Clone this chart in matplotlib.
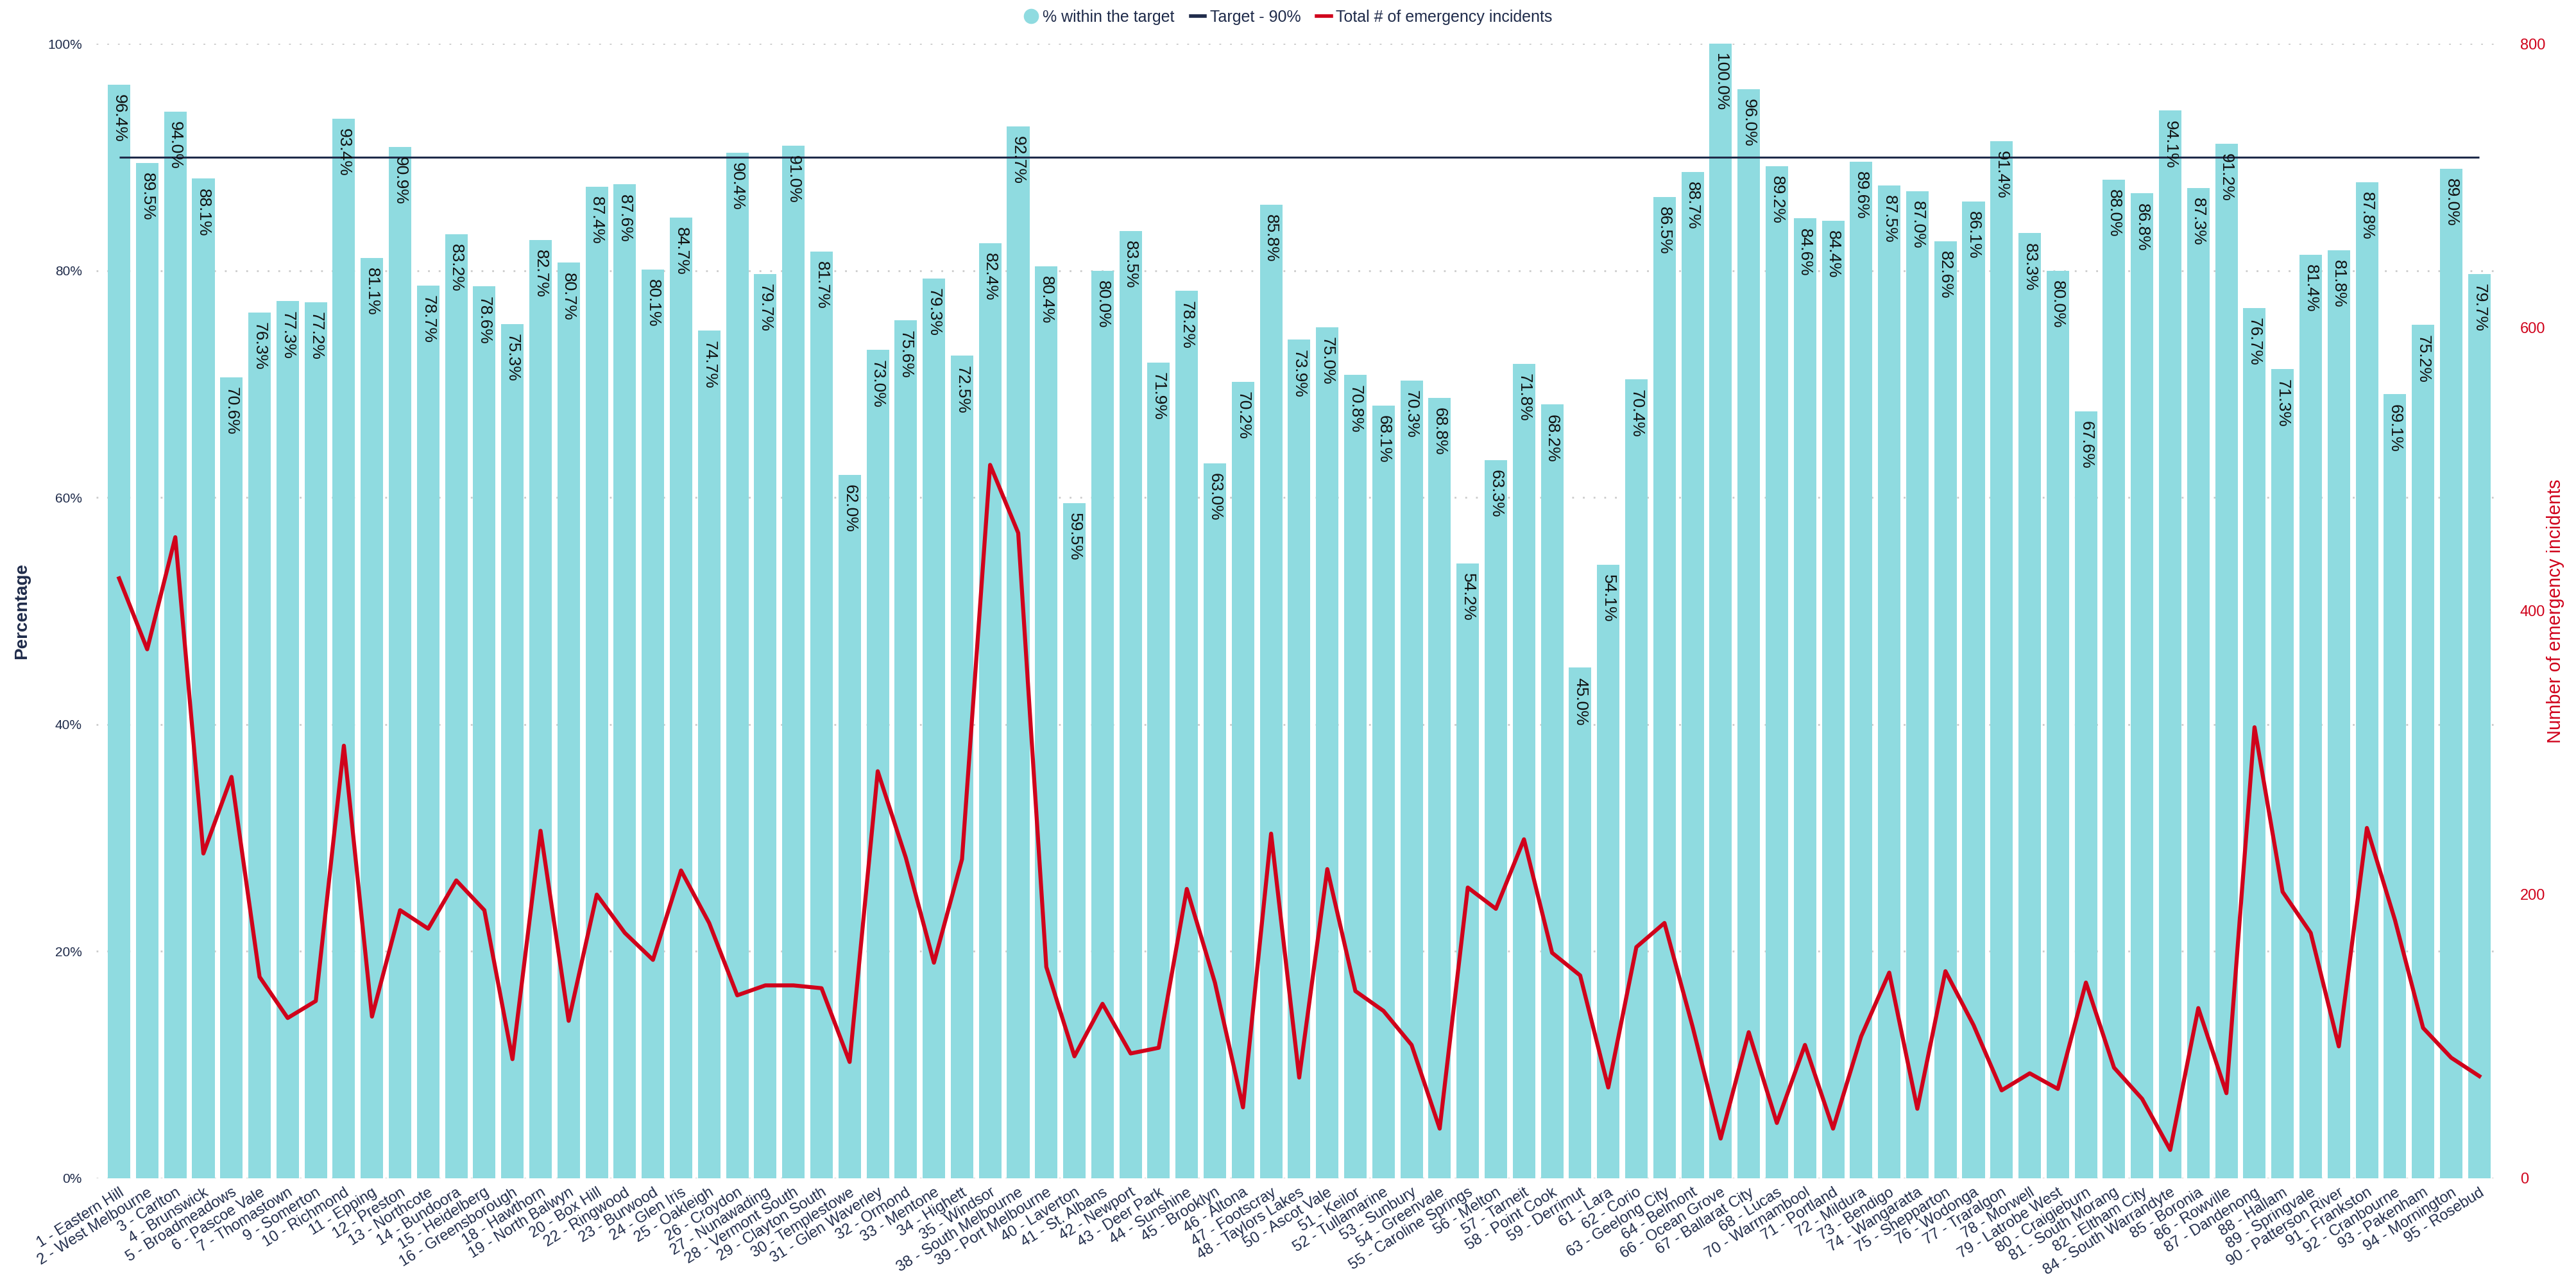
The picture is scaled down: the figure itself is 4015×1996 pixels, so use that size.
import matplotlib
matplotlib.use('Agg')
import matplotlib.pyplot as plt
from matplotlib.lines import Line2D
import numpy as np

plt.rcParams['font.family'] = ['Liberation Sans', 'DejaVu Sans']

stations = [
    "1 - Eastern Hill", "2 - West Melbourne", "3 - Carlton", "4 - Brunswick", "5 - Broadmeadows",
    "6 - Pascoe Vale", "7 - Thomastown", "9 - Somerton", "10 - Richmond", "11 - Epping",
    "12 - Preston", "13 - Northcote", "14 - Bundoora", "15 - Heidelberg", "16 - Greensborough",
    "18 - Hawthorn", "19 - North Balwyn", "20 - Box Hill", "22 - Ringwood", "23 - Burwood",
    "24 - Glen Iris", "25 - Oakleigh", "26 - Croydon", "27 - Nunawading", "28 - Vermont South",
    "29 - Clayton South", "30 - Templestowe", "31 - Glen Waverley", "32 - Ormond", "33 - Mentone",
    "34 - Highett", "35 - Windsor", "38 - South Melbourne", "39 - Port Melbourne", "40 - Laverton",
    "41 - St. Albans", "42 - Newport", "43 - Deer Park", "44 - Sunshine", "45 - Brooklyn",
    "46 - Altona", "47 - Footscray", "48 - Taylors Lakes", "50 - Ascot Vale", "51 - Keilor",
    "52 - Tullamarine", "53 - Sunbury", "54 - Greenvale", "55 - Caroline Springs", "56 - Melton",
    "57 - Tarneit", "58 - Point Cook", "59 - Derrimut", "61 - Lara", "62 - Corio",
    "63 - Geelong City", "64 - Belmont", "66 - Ocean Grove", "67 - Ballarat City", "68 - Lucas",
    "70 - Warrnambool", "71 - Portland", "72 - Mildura", "73 - Bendigo", "74 - Wangaratta",
    "75 - Shepparton", "76 - Wodonga", "77 - Traralgon", "78 - Morwell", "79 - Latrobe West",
    "80 - Craigieburn", "81 - South Morang", "82 - Eltham City", "84 - South Warrandyte", "85 - Boronia",
    "86 - Rowville", "87 - Dandenong", "88 - Hallam", "89 - Springvale", "90 - Patterson River",
    "91 - Frankston", "92 - Cranbourne", "93 - Pakenham", "94 - Mornington", "95 - Rosebud",
]

pct_within_target = [
    96.4, 89.5, 94.0, 88.1, 70.6, 76.3, 77.3, 77.2, 93.4, 81.1,
    90.9, 78.7, 83.2, 78.6, 75.3, 82.7, 80.7, 87.4, 87.6, 80.1,
    84.7, 74.7, 90.4, 79.7, 91.0, 81.7, 62.0, 73.0, 75.6, 79.3,
    72.5, 82.4, 92.7, 80.4, 59.5, 80.0, 83.5, 71.9, 78.2, 63.0,
    70.2, 85.8, 73.9, 75.0, 70.8, 68.1, 70.3, 68.8, 54.2, 63.3,
    71.8, 68.2, 45.0, 54.1, 70.4, 86.5, 88.7, 100.0, 96.0, 89.2,
    84.6, 84.4, 89.6, 87.5, 87.0, 82.6, 86.1, 91.4, 83.3, 80.0,
    67.6, 88.0, 86.8, 94.1, 87.3, 91.2, 76.7, 71.3, 81.4, 81.8,
    87.8, 69.1, 75.2, 89.0, 79.7,
]

incidents = [
    423, 373, 452, 229, 283, 142, 113, 125, 305, 114,
    189, 176, 210, 189, 84, 245, 111, 200, 173, 154,
    217, 180, 129, 136, 136, 134, 82, 287, 226, 152,
    225, 503, 455, 149, 86, 123, 88, 92, 204, 138,
    50, 243, 71, 218, 132, 118, 94, 35, 205, 190,
    239, 159, 143, 64, 163, 180, 107, 28, 103, 39,
    94, 35, 100, 145, 49, 146, 108, 62, 74, 63,
    138, 78, 56, 20, 120, 60, 318, 202, 173, 93,
    247, 182, 106, 85, 72,
]

target_pct = 90

pct_ticks = [0, 20, 40, 60, 80, 100]
count_ticks = [0, 200, 400, 600, 800]

BAR = '#8fdbe0'
NAVY = '#1f2b4a'
RED = '#d0021b'

fig = plt.figure(figsize=(40.15, 19.96), dpi=100)
ax = fig.add_axes([0.0374, 0.0802, 0.934, 0.8857])
x = np.arange(len(stations))

ax.bar(x, pct_within_target, width=0.8, color=BAR, zorder=2)
ax.set_xlim(-0.81, len(stations) - 1 + 0.82)
ax.set_ylim(0, 100)
ax.set_yticks(pct_ticks)
ax.set_yticklabels([f'{v}%' for v in pct_ticks])
ax.grid(axis='y', color='#cccccc', linestyle=(0, (1, 5)), linewidth=2)
ax.set_axisbelow(True)
for s in ax.spines.values():
    s.set_visible(False)
ax.tick_params(axis='y', length=0, pad=16, labelsize=15, labelcolor=NAVY)
ax.set_xticks(x)
ax.set_xticklabels(stations, rotation=32, ha='right', rotation_mode='anchor',
                   fontsize=17, color=NAVY)
ax.tick_params(axis='x', length=0, pad=8)

ax.hlines(target_pct, x[0], x[-1], color=NAVY, lw=2.2, zorder=4)

for xi, v in zip(x, pct_within_target):
    ax.annotate(f'{v:.1f}%', (xi, v), xytext=(0, -11), textcoords='offset points',
                rotation=-90, rotation_mode='anchor', ha='left', va='center',
                fontsize=19, color='#111111', zorder=5)

ax2 = ax.twinx()
ax2.plot(x, incidents, color=RED, lw=4.5, zorder=5)
ax2.set_ylim(0, 800)
ax2.set_yticks(count_ticks)
ax2.set_yticklabels([str(v) for v in count_ticks])
ax2.tick_params(axis='y', length=0, pad=20, labelsize=17, labelcolor=RED)
for s in ax2.spines.values():
    s.set_visible(False)

fig.text(0.0085, 0.523, 'Percentage', rotation=90, ha='center', va='center',
         fontsize=20, fontweight='bold', color=NAVY)
fig.text(0.992, 0.523, 'Number of emergency incidents', rotation=90, ha='center', va='center',
         fontsize=21, color=RED)

handles = [
    Line2D([], [], marker='o', linestyle='none', markersize=16, color=BAR),
    Line2D([], [], color=NAVY, lw=4),
    Line2D([], [], color=RED, lw=4),
]
labels = ['% within the target', 'Target - 90%', 'Total # of emergency incidents']
fig.legend(handles, labels, loc='upper center', bbox_to_anchor=(0.5, 1.0), ncol=3,
           frameon=False, fontsize=18, handlelength=0.9, handletextpad=0.3,
           columnspacing=1.0, labelcolor=NAVY, borderaxespad=0.2)

fig.savefig('out.png', dpi=100)
